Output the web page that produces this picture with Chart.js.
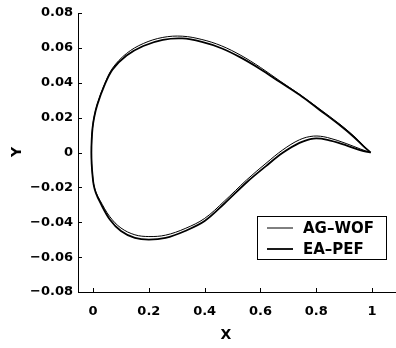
<!DOCTYPE html>
<html><head><meta charset="utf-8">
<script src="https://cdn.jsdelivr.net/npm/chart.js@4/dist/chart.umd.min.js"></script>
<style>html,body{margin:0;padding:0;background:#fff}#wrap{width:396px;height:348px}</style>
</head><body><div id="wrap"><canvas id="c" width="396" height="348"></canvas></div>
<script>
// Series names
const seriesNames = ['AG–WOF', 'EA–PEF'];
// Upper surface, trailing edge -> leading edge
const xUpper = [0.995, 0.97, 0.935, 0.885, 0.81, 0.74, 0.67, 0.60, 0.53, 0.46, 0.39, 0.32, 0.25, 0.18, 0.12, 0.07, 0.04, 0.015, 0.004, -0.002, -0.005, -0.006];
const yUpperAG = [0.0, 0.0039, 0.0094, 0.0162, 0.0252, 0.0334, 0.0410, 0.0488, 0.0557, 0.0612, 0.0648, 0.0667, 0.0660, 0.0625, 0.0568, 0.0484, 0.0388, 0.0277, 0.0205, 0.0140, 0.0070, 0.0];
const yUpperEA = [0.0, 0.0035, 0.0089, 0.0156, 0.0247, 0.0331, 0.0404, 0.0478, 0.0544, 0.0598, 0.0634, 0.0654, 0.0646, 0.0611, 0.0556, 0.0476, 0.0382, 0.0273, 0.0202, 0.0138, 0.0069, 0.0];
// Lower surface, leading edge -> trailing edge
const xLower = [-0.006, -0.005, -0.002, 0.002, 0.010, 0.025, 0.06, 0.10, 0.15, 0.20, 0.26, 0.33, 0.40, 0.47, 0.55, 0.62, 0.68, 0.74, 0.79, 0.84, 0.91, 0.96, 0.995];
const yLowerAG = [0.0, -0.0065, -0.0128, -0.0180, -0.0226, -0.0275, -0.0368, -0.0433, -0.0472, -0.0482, -0.0474, -0.0436, -0.0378, -0.0280, -0.0158, -0.0062, 0.0015, 0.0073, 0.0094, 0.0086, 0.0050, 0.0019, 0.0];
const yLowerEA = [0.0, -0.0066, -0.0130, -0.0184, -0.0232, -0.0285, -0.0384, -0.0450, -0.0490, -0.0500, -0.0490, -0.0450, -0.0393, -0.0294, -0.0172, -0.0078, -0.0002, 0.0055, 0.0080, 0.0073, 0.0040, 0.0012, 0.0];
// Ticks
const xTicks = [0, 0.2, 0.4, 0.6, 0.8, 1];
const xTickLabels = ['0', '0.2', '0.4', '0.6', '0.8', '1'];
const yTicks = [0.08, 0.06, 0.04, 0.02, 0, -0.02, -0.04, -0.06, -0.08];
const yTickLabels = ['0.08', '0.06', '0.04', '0.02', '0', '−0.02', '−0.04', '−0.06', '−0.08'];

function loop(yu, yl) {
  const pts = xUpper.map((x, i) => ({x: x, y: yu[i]}));
  for (let i = 1; i < xLower.length; i++) pts.push({x: xLower[i], y: yl[i]});
  return pts;
}

const tickFont = {family: 'DejaVu Sans', weight: 'bold', size: 13};

const inwardTicks = {
  id: 'inwardTicks',
  afterDraw(chart) {
    const ctx = chart.ctx, xs = chart.scales.x, ys = chart.scales.y;
    ctx.save();
    ctx.strokeStyle = '#000'; ctx.lineWidth = 1;
    ctx.beginPath();
    yTicks.forEach(v => { const p = Math.round(ys.getPixelForValue(v)) + 0.5; ctx.moveTo(xs.left, p); ctx.lineTo(xs.left + 4, p); });
    xTicks.forEach(v => { const p = Math.round(xs.getPixelForValue(v)) + 0.5; ctx.moveTo(p, ys.bottom); ctx.lineTo(p, ys.bottom - 4); });
    ctx.stroke();
    // axis titles
    ctx.fillStyle = '#000';
    ctx.font = 'bold 14px "DejaVu Sans"';
    ctx.textAlign = 'center'; ctx.textBaseline = 'middle';
    ctx.fillText('X', 226, 335);
    ctx.translate(17, 152); ctx.rotate(-Math.PI / 2);
    ctx.fillText('Y', 0, 0);
    ctx.restore();
    // legend
    ctx.save();
    const bx = 257.5, by = 216.5, bw = 129, bh = 43;
    ctx.fillStyle = '#fff'; ctx.fillRect(bx, by, bw, bh);
    ctx.strokeStyle = '#000'; ctx.lineWidth = 1; ctx.strokeRect(bx, by, bw, bh);
    ctx.font = 'bold 15px "DejaVu Sans"';
    ctx.textAlign = 'left'; ctx.textBaseline = 'middle'; ctx.fillStyle = '#000';
    const rows = [228, 249];
    chart.data.datasets.forEach((ds, i) => {
      ctx.lineWidth = ds.borderWidth;
      ctx.beginPath(); ctx.moveTo(267, rows[i]); ctx.lineTo(293, rows[i]); ctx.stroke();
      ctx.fillText(ds.label, 303, rows[i] + 1);
    });
    ctx.restore();
  }
};

new Chart(document.getElementById('c'), {
  type: 'scatter',
  data: {
    datasets: [
      {label: seriesNames[0], data: loop(yUpperAG, yLowerAG), showLine: true, borderColor: '#000', borderWidth: 1, pointRadius: 0, tension: 0.35, fill: false},
      {label: seriesNames[1], data: loop(yUpperEA, yLowerEA), showLine: true, borderColor: '#000', borderWidth: 1.8, pointRadius: 0, tension: 0.35, fill: false}
    ]
  },
  options: {
    responsive: false, animation: false, devicePixelRatio: 1,
    layout: {padding: {top: 13, left: 0, right: 0, bottom: 0}},
    plugins: {legend: {display: false}, tooltip: {enabled: false}},
    scales: {
      x: {
        type: 'linear', min: -0.054, max: 1.086,
        afterBuildTicks: s => { s.ticks = xTicks.map(v => ({value: v})); },
        afterFit: s => { s.height = 56; },
        grid: {display: true, drawOnChartArea: false, drawTicks: false},
        border: {display: true, color: '#000', width: 1},
        ticks: {color: '#000', font: tickFont, padding: 12, maxRotation: 0, autoSkip: false,
          callback: (v) => { const i = xTicks.findIndex(t => Math.abs(t - v) < 1e-9); return i >= 0 ? xTickLabels[i] : ''; }}
      },
      y: {
        type: 'linear', min: -0.08, max: 0.08,
        afterBuildTicks: s => { s.ticks = yTicks.map(v => ({value: v})); },
        afterFit: s => { s.width = 78; },
        grid: {display: true, drawOnChartArea: false, drawTicks: false},
        border: {display: true, color: '#000', width: 1},
        ticks: {color: '#000', font: tickFont, padding: 5, autoSkip: false,
          callback: (v) => { const i = yTicks.findIndex(t => Math.abs(t - v) < 1e-9); return i >= 0 ? yTickLabels[i] : ''; }}
      }
    }
  },
  plugins: [inwardTicks]
});
</script></body></html>
